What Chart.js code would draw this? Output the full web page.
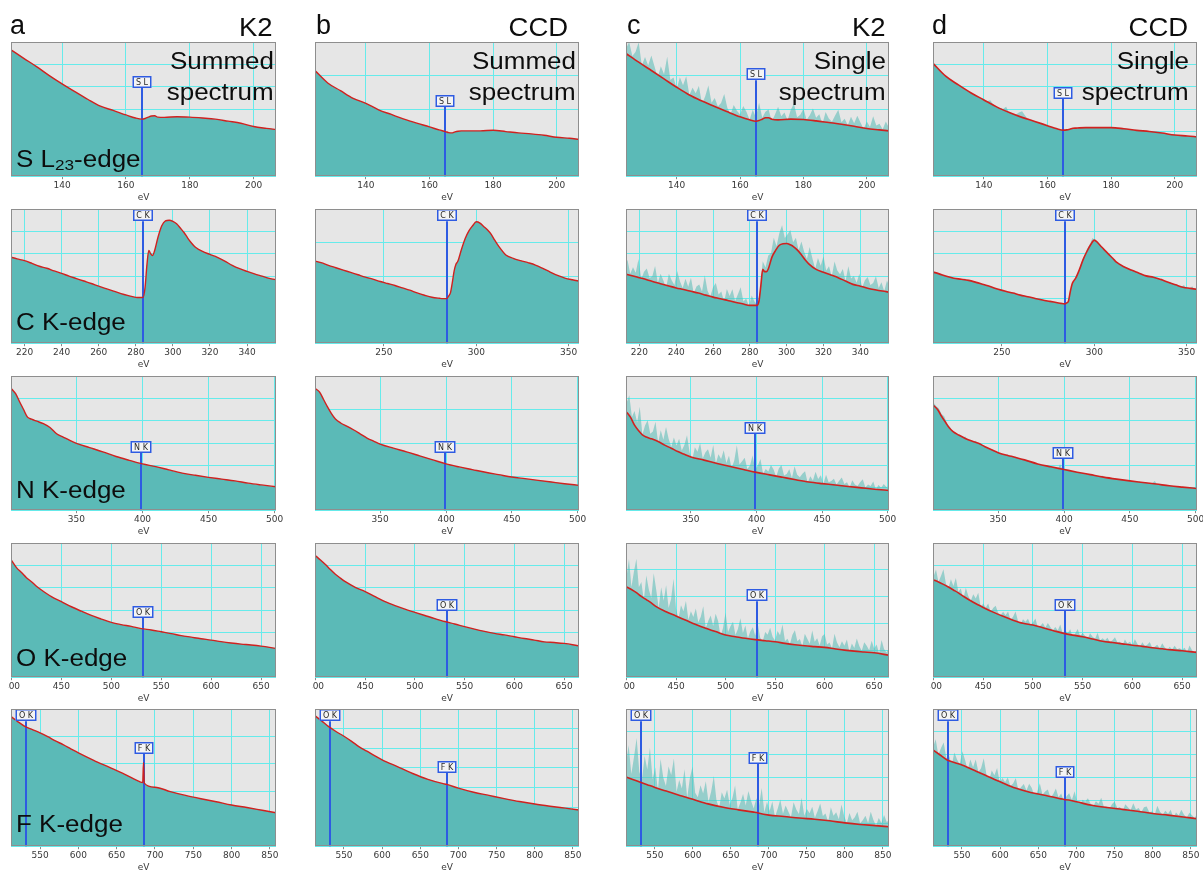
<!DOCTYPE html>
<html><head><meta charset="utf-8">
<script src="https://cdn.jsdelivr.net/npm/chart.js@4.4.1/dist/chart.umd.min.js"></script>
<style>
html,body{margin:0;padding:0;background:#fff}
body{position:relative;width:1203px;height:871px;overflow:hidden;font-family:"Liberation Sans",Arial,Helvetica,sans-serif}
.clip{position:absolute;overflow:hidden}
.clip canvas{position:absolute;left:0;top:0}
.t{position:absolute;color:#0d0d0d;white-space:nowrap;line-height:1;z-index:5}
.t .sb{position:relative;top:0.26em;font-size:0.66em}
</style></head><body>
<script>
// ---------- edges ----------
const edgeLabels = ['S L','C K','N K','O K','F K'];
const edgeEnergies = [165, 284, 399, 532, 685];

// ---------- x tick labels ----------
const ticksR1 = [140,160,180,200];
const ticksR2fine = [220,240,260,280,300,320,340];
const ticksR2coarse = [250,300,350];
const ticksR3 = [350,400,450,500];
const ticksR4 = [400,450,500,550,600,650];
const ticksR5 = [550,600,650,700,750,800,850];

// ---------- row 1 : S L23 ----------
const r1E = [124,128,132,136,140,144,148,152,156,160,163,165,166,167,168,169,170,172,176,180,184,188,192,196,200,204,207];
const r1A = [5.65,5.27,4.9,4.5,4.13,3.78,3.44,3.13,2.94,2.74,2.6,2.55,2.58,2.64,2.69,2.7,2.64,2.63,2.66,2.64,2.6,2.55,2.46,2.37,2.22,2.14,2.09];
const r1B = [3.15,2.78,2.55,2.32,2.17,1.98,1.84,1.7,1.58,1.47,1.38,1.33,1.3,1.29,1.32,1.34,1.35,1.35,1.35,1.37,1.33,1.29,1.26,1.22,1.16,1.13,1.1];
const r1C = [3.66,3.4,3.15,2.9,2.65,2.42,2.24,2.08,1.92,1.77,1.68,1.64,1.66,1.7,1.74,1.74,1.7,1.68,1.7,1.69,1.65,1.6,1.55,1.49,1.42,1.38,1.35];
const r1D = [5.05,4.47,4.08,3.72,3.41,3.1,2.85,2.63,2.45,2.26,2.12,2.06,2.07,2.1,2.14,2.15,2.16,2.17,2.17,2.17,2.12,2.05,2.0,1.93,1.84,1.8,1.76];
const r1NE = [124,125,126,127,128,129,130,131,132,133,134,135,136,137,138,139,140,141,142,143,144,145,146,147,148,149,150,151,152,153,154,155,156,157,158,159,160,161,162,163,164,165,166,167,168,169,170,171,172,173,174,175,176,177,178,179,180,181,182,183,184,185,186,187,188,189,190,191,192,193,194,195,196,197,198,199,200,201,202,203,204,205,206,207];
const r1NC = [3.8,4.0,3.58,3.7,3.99,3.3,3.55,3.3,3.6,3.27, 2.94,3.28,3.04,3.56,2.87,2.94,2.6,2.95,2.71,2.98, 2.42,2.64,2.47,2.69,2.15,2.38,2.7,2.19,2.33,2.08, 2.18,2.45,2.03,1.85,2.12,1.95,1.84,2.09,1.92,1.68, 1.98,1.75,2.19,1.74,1.92,1.99,1.63,1.83,2.07,1.79, 1.9,1.67,1.98,2.16,1.76,1.83,2.01,1.68,1.82,2.02, 1.74,1.85,1.56,1.91,1.72,1.62,1.81,1.98,1.61,1.71, 1.52,1.77,1.58,1.8,1.6,1.41,1.63,1.47,1.79,1.51, 1.56,1.4,1.63,1.44];
const r1ND = [5.0,4.85,4.7,4.5,4.4,4.35,4.2,4.15,4.0,3.95, 3.85,3.75,3.7,3.6,3.5,3.5,3.45,3.35,3.4,3.2, 3.1,3.05,3.0,3.1,2.8,2.75,2.75,2.85,2.9,2.7, 2.5,2.45,2.4,2.35,2.35,2.25,2.2,2.2,2.1,2.05, 2.0,1.95,2.0,2.05,2.15,2.1,2.05,2.1,2.2,2.1, 2.0,2.15,2.1,2.2,2.05,2.15,2.2,2.05,2.1,2.0, 2.1,2.0,1.95,2.05,1.95,2.0,1.9,1.95,1.85,1.9, 1.95,1.8,1.85,1.9,1.75,1.8,1.7,1.8,1.75,1.7, 1.75,1.65,1.75,1.7];

// ---------- row 2 : C K ----------
const r2E = [212,216,220,224,228,232,236,240,244,248,252,256,260,264,268,272,276,280,282,284,285,286,287,288,289,290,292,294,296,298,300,302,304,306,308,310,312,316,320,324,328,332,336,340,344,348,352,356];
const r2A = [3.86,3.77,3.69,3.57,3.44,3.35,3.23,3.12,3.0,2.89,2.78,2.67,2.55,2.44,2.33,2.22,2.13,2.05,2.04,2.05,2.5,3.5,4.15,4.0,3.92,4.1,4.75,5.25,5.47,5.5,5.45,5.34,5.15,4.95,4.7,4.48,4.3,4.1,3.97,3.84,3.67,3.48,3.33,3.21,3.1,3.0,2.9,2.83];
const r2B = [2.46,2.4,2.32,2.25,2.18,2.11,2.04,1.97,1.91,1.84,1.78,1.72,1.65,1.58,1.5,1.43,1.37,1.34,1.33,1.33,1.4,1.5,1.8,2.15,2.35,2.44,2.8,3.12,3.35,3.5,3.62,3.58,3.48,3.38,3.25,3.07,2.9,2.63,2.53,2.46,2.4,2.33,2.23,2.12,2.02,1.94,1.89,1.85];
const r2C = [3.1,3.02,2.93,2.84,2.74,2.65,2.56,2.47,2.4,2.32,2.24,2.15,2.06,1.99,1.91,1.83,1.76,1.69,1.69,1.69,1.9,2.6,3.3,3.2,3.2,3.32,3.85,4.15,4.38,4.45,4.46,4.4,4.3,4.15,3.95,3.73,3.55,3.3,3.17,3.05,2.93,2.78,2.63,2.55,2.46,2.39,2.33,2.28];
const r2D = [3.2,3.1,2.99,2.9,2.86,2.81,2.72,2.62,2.52,2.41,2.32,2.24,2.15,2.08,2.0,1.93,1.87,1.81,1.78,1.76,1.8,1.88,2.3,2.65,2.8,2.92,3.3,3.75,4.1,4.4,4.61,4.48,4.3,4.13,3.96,3.8,3.62,3.42,3.27,3.14,3.01,2.95,2.85,2.72,2.61,2.5,2.45,2.4];
const r2NE = [212,213.5,215,216.5,218,219.5,221,222.5,224,225.5,227,228.5,230,231.5,233,234.5,236,237.5,239,240.5,242,243.5,245,246.5,248,249.5,251,252.5,254,255.5,257,258.5,260,261.5,263,264.5,266,267.5,269,270.5,272,273.5,275,276.5,278,279.5,281,282.5,284,285.5,287,288.5,290,291.5,293,294.5,296,297.5,299,300.5,302,303.5,305,306.5,308,309.5,311,312.5,314,315.5,317,318.5,320,321.5,323,324.5,326,327.5,329,330.5,332,333.5,335,336.5,338,339.5,341,342.5,344,345.5,347,348.5,350,351.5,353,354.5,356];
const r2NC = [3.38,3.73,3.1,3.4,3.15,3.77,2.86,3.2,3.34,2.91, 2.99,3.45,2.7,3.1,2.8,2.48,3.11,2.81,2.6,3.23, 2.77,2.47,2.88,2.52,2.93,2.24,2.54,2.62,2.31,3.04, 2.35,2.09,2.5,2.69,2.18,2.31,1.84,2.42,2.11,2.41, 1.89,2.19,2.5,1.86,2.0,1.65,2.13,1.86,1.73,2.33, 3.66,3.38,3.92,4.02,4.72,4.33,4.92,5.27,4.7,4.87, 5.06,4.51,4.71,4.16,4.55,4.09,3.76,4.3,3.79,3.33, 3.81,3.46,3.89,3.25,3.44,2.98,3.65,3.25,3.08,3.32, 2.78,3.44,2.89,3.01,2.7,3.11,2.48,2.82,2.96,2.6, 2.69,2.99,2.47,2.73,2.32,2.8,2.5];
const r2ND = [3.3,3.15,3.05,3.1,2.95,2.9,3.0,2.85,2.9,2.8, 2.85,2.8,2.9,2.7,2.75,2.6,2.65,2.6,2.55,2.5, 2.55,2.45,2.5,2.35,2.4,2.3,2.35,2.25,2.3,2.2, 2.2,2.1,2.15,2.05,2.1,2.0,2.05,1.95,2.0,1.9, 1.95,1.85,1.9,1.8,1.85,1.75,1.8,1.7,1.75,1.8, 2.2,2.6,2.95,3.2,3.6,3.9,4.2,4.4,4.7,4.6, 4.55,4.3,4.2,4.0,3.95,3.7,3.7,3.5,3.45,3.4, 3.35,3.3,3.2,3.25,3.1,3.1,3.0,3.05,2.95,2.9, 2.95,2.85,2.8,2.9,2.75,2.7,2.75,2.6,2.65,2.55, 2.5,2.6,2.45,2.4,2.55,2.35,2.4];

// ---------- row 3 : N K ----------
const r3E = [301,304,307,310,313,316,320,325,330,335,340,345,350,360,370,380,390,400,410,420,430,440,450,460,470,480,490,501];
const r3A = [5.42,5.21,4.85,4.5,4.16,4.07,3.98,3.87,3.7,3.42,3.27,3.12,2.99,2.8,2.61,2.4,2.23,2.07,1.95,1.8,1.66,1.56,1.47,1.39,1.31,1.21,1.13,1.05];
const r3B = [3.62,3.52,3.3,3.08,2.88,2.72,2.6,2.5,2.39,2.27,2.15,2.06,1.97,1.85,1.74,1.62,1.5,1.38,1.29,1.21,1.13,1.06,0.99,0.94,0.89,0.84,0.79,0.74];
const r3C = [4.38,4.15,3.8,3.56,3.37,3.27,3.19,3.07,2.91,2.77,2.62,2.5,2.38,2.24,2.09,1.95,1.82,1.69,1.58,1.47,1.36,1.26,1.19,1.13,1.06,1.0,0.94,0.88];
const r3D = [4.68,4.5,4.2,3.93,3.67,3.5,3.36,3.21,3.09,2.99,2.84,2.7,2.57,2.41,2.25,2.07,1.94,1.82,1.7,1.59,1.48,1.39,1.31,1.24,1.17,1.09,1.03,0.97];
const r3NE = [301,303,305,307,309,311,313,315,317,319,321,323,325,327,329,331,333,335,337,339,341,343,345,347,349,351,353,355,357,359,361,363,365,367,369,371,373,375,377,379,381,383,385,387,389,391,393,395,397,399,401,403,405,407,409,411,413,415,417,419,421,423,425,427,429,431,433,435,437,439,441,443,445,447,449,451,453,455,457,459,461,463,465,467,469,471,473,475,477,479,481,483,485,487,489,491,493,495,497,499,501];
const r3NC = [4.8,5.14,4.17,4.43,3.92,4.62,3.37,3.79,4.02,3.42, 3.52,3.96,3.0,3.57,3.15,3.72,3.19,2.83,3.25,2.89, 3.2,2.67,2.92,3.35,2.58,2.25,2.82,2.61,3.0,2.31, 2.58,2.73,2.34,2.91,2.1,2.5,2.29,2.68,2.11,2.44, 1.88,2.21,2.9,2.04,2.19,2.35,1.84,1.99,2.45,1.82, 2.0,2.29,1.63,1.84,1.73,2.02,1.82,1.49,1.86,2.02, 1.55,1.62,1.83,1.44,1.96,1.58,1.47,1.63,1.74,1.23, 1.52,1.33,1.72,1.39,1.56,1.18,1.59,1.25,1.3,1.41, 1.15,1.32,1.46,1.17,1.25,1.02,1.34,1.15,1.08,1.25, 1.38,1.01,1.15,1.08,1.28,0.93,1.13,1.0,1.17,1.04, 1.06];
const r3ND = [4.8,4.65,4.55,4.3,4.2,3.9,3.75,3.55,3.5,3.4, 3.35,3.25,3.3,3.15,3.1,3.05,3.1,2.95,2.85,2.9, 2.8,2.75,2.7,2.65,2.6,2.55,2.5,2.45,2.5,2.4, 2.35,2.4,2.3,2.25,2.2,2.2,2.15,2.05,2.1,2.0, 2.05,1.95,2.0,1.9,1.95,1.85,1.9,1.8,2.05,1.8, 1.85,1.75,1.75,1.7,1.7,1.65,1.6,1.65,1.55,1.6, 1.55,1.5,1.5,1.45,1.55,1.4,1.45,1.4,1.35,1.4, 1.35,1.3,1.35,1.3,1.25,1.3,1.25,1.2,1.3,1.2, 1.2,1.25,1.15,1.2,1.3,1.1,1.0,1.1,1.05,1.1, 1.05,1.0,1.05,1.0,0.95,1.0,0.9,1.0,0.95,0.9, 0.95];

// ---------- row 4 : O K ----------
const r4E = [400,405,410,415,420,425,430,440,450,460,470,480,490,500,510,520,530,540,550,560,570,580,590,600,610,620,630,640,650,665];
const r4A = [5.22,4.9,4.68,4.45,4.27,4.07,3.9,3.6,3.38,3.15,2.95,2.76,2.6,2.45,2.35,2.27,2.17,2.11,2.03,1.95,1.86,1.79,1.72,1.66,1.59,1.53,1.48,1.44,1.39,1.29];
const r4B = [5.43,5.24,5.04,4.81,4.6,4.43,4.27,4.02,3.83,3.6,3.38,3.2,3.04,2.9,2.76,2.62,2.49,2.38,2.26,2.15,2.05,1.96,1.89,1.81,1.73,1.66,1.58,1.55,1.51,1.4];
const r4C = [3.36,3.27,3.15,3.01,2.89,2.77,2.63,2.44,2.28,2.12,1.96,1.82,1.7,1.57,1.51,1.45,1.4,1.36,1.32,1.26,1.21,1.17,1.14,1.11,1.06,1.01,0.97,0.94,0.91,0.82];
const r4D = [4.35,4.26,4.15,4.03,3.9,3.77,3.62,3.35,3.12,2.91,2.72,2.55,2.41,2.33,2.21,2.09,1.97,1.88,1.81,1.71,1.61,1.55,1.49,1.43,1.38,1.32,1.27,1.22,1.18,1.11];
const r4NE = [400,402.5,405,407.5,410,412.5,415,417.5,420,422.5,425,427.5,430,432.5,435,437.5,440,442.5,445,447.5,450,452.5,455,457.5,460,462.5,465,467.5,470,472.5,475,477.5,480,482.5,485,487.5,490,492.5,495,497.5,500,502.5,505,507.5,510,512.5,515,517.5,520,522.5,525,527.5,530,532.5,535,537.5,540,542.5,545,547.5,550,552.5,555,557.5,560,562.5,565,567.5,570,572.5,575,577.5,580,582.5,585,587.5,590,592.5,595,597.5,600,602.5,605,607.5,610,612.5,615,617.5,620,622.5,625,627.5,630,632.5,635,637.5,640,642.5,645,647.5,650,652.5,655,657.5,660,662.5,665];
const r4NC = [3.72,4.4,3.36,3.93,4.41,3.35,3.55,2.86,3.79,3.28, 2.95,3.87,3.26,2.58,3.35,2.85,3.43,2.58,2.9,3.67, 2.55,2.18,2.68,2.46,2.84,2.14,2.46,2.24,2.56,2.05, 2.25,2.64,1.82,2.09,2.3,1.91,2.36,2.09,1.52,1.84, 2.41,1.68,1.9,2.07,1.57,1.8,2.2,1.65,1.93,1.44, 1.7,1.86,1.54,1.98,1.47,1.33,1.68,1.58,1.84,1.51, 1.37,1.72,1.56,1.96,1.35,1.43,1.24,1.58,1.75,1.34, 1.42,1.14,1.62,1.43,1.25,1.74,1.32,1.45,1.18,1.53, 1.61,1.22,1.29,1.07,1.62,1.29,1.12,1.34,1.17,1.4, 0.95,1.26,1.09,1.44,1.16,0.99,1.3,1.17,1.0,1.36, 1.07,1.22,0.88,1.39,1.05,0.92,1.1];
const r4ND = [4.49,4.81,4.26,4.53,4.83,4.18,3.99,4.38,4.08,4.43, 3.82,3.97,3.49,4.0,3.63,3.42,3.71,3.52,3.78,3.14, 3.3,3.1,3.29,2.9,3.09,3.19,2.88,2.77,2.93,2.77, 2.94,2.56,2.7,2.94,2.51,2.36,2.59,2.48,2.61,2.35, 2.45,2.63,2.21,2.3,2.42,2.21,2.42,2.24,2.09,2.24, 2.09,2.36,1.94,2.1,1.96,2.14,1.79,1.95,2.15,1.83, 1.99,1.84,1.71,1.97,1.81,1.72,1.99,1.64,1.74,1.65, 1.76,1.55,1.65,1.79,1.55,1.59,1.42,1.68,1.51,1.58, 1.43,1.7,1.49,1.34,1.56,1.4,1.45,1.57,1.3,1.36, 1.45,1.28,1.52,1.34,1.2,1.36,1.25,1.41,1.25,1.29, 1.23,1.32,1.11,1.42,1.21,1.12,1.24];

// ---------- row 5 : F K ----------
const r5E = [512,520,530,540,550,560,570,580,590,600,620,640,660,680,684,685,686,700,720,740,760,780,800,820,840,858];
const r5A = [4.72,4.56,4.37,4.25,4.13,3.99,3.84,3.7,3.55,3.4,3.13,2.88,2.63,2.35,2.32,3.05,2.3,2.15,1.99,1.85,1.73,1.62,1.5,1.41,1.31,1.22];
const r5B = [6.65,6.42,6.1,5.84,5.61,5.35,5.07,4.85,4.62,4.41,4.06,3.71,3.41,3.19,3.16,3.15,3.14,2.96,2.75,2.59,2.43,2.28,2.15,2.04,1.94,1.85];
const r5C = [3.03,2.93,2.81,2.69,2.57,2.46,2.36,2.25,2.15,2.05,1.85,1.7,1.59,1.49,1.47,1.46,1.45,1.36,1.3,1.23,1.18,1.11,1.02,0.95,0.9,0.85];
const r5D = [4.21,4.02,3.78,3.66,3.55,3.41,3.26,3.11,2.96,2.82,2.54,2.35,2.22,2.07,2.04,2.03,2.03,1.94,1.79,1.69,1.61,1.53,1.43,1.36,1.28,1.2];
const r5NE = [512,515.5,519,522.5,526,529.5,533,536.5,540,543.5,547,550.5,554,557.5,561,564.5,568,571.5,575,578.5,582,585.5,589,592.5,596,599.5,603,606.5,610,613.5,617,620.5,624,627.5,631,634.5,638,641.5,645,648.5,652,655.5,659,662.5,666,669.5,673,676.5,680,683.5,687,690.5,694,697.5,701,704.5,708,711.5,715,718.5,722,725.5,729,732.5,736,739.5,743,746.5,750,753.5,757,760.5,764,767.5,771,774.5,778,781.5,785,788.5,792,795.5,799,802.5,806,809.5,813,816.5,820,823.5,827,830.5,834,837.5,841,844.5,848,851.5,855,858.5];
const r5NC = [3.58,4.42,3.16,3.89,4.73,3.26,2.88,3.94,3.35,4.3, 2.93,3.44,2.42,3.81,3.0,2.63,3.48,3.11,3.84,2.38, 2.89,2.52,3.37,2.12,2.97,3.48,2.34,2.14,2.67,2.31, 2.84,1.93,2.38,3.07,2.01,1.66,2.36,2.09,2.47,1.81, 2.11,2.65,1.6,1.9,2.28,1.78,2.41,1.99,1.65,2.1, 1.77,2.54,1.48,1.94,1.54,1.95,1.28,1.63,2.04,1.42, 1.78,1.52,1.27,1.92,1.6,1.41,2.12,1.33,1.63,1.44, 1.73,1.24,1.53,1.87,1.32,1.43,1.06,1.7,1.33,1.49, 1.18,1.82,1.32,1.01,1.45,1.13,1.27,1.51,1.0,1.14, 1.33,1.02,1.51,1.15,0.89,1.23,1.02,1.36,1.06,1.15];
const r5ND = [4.32,4.68,3.99,4.29,4.53,3.85,3.96,3.54,4.1,3.79, 3.58,4.15,3.77,3.34,3.79,3.45,3.79,3.24,3.41,3.85, 3.14,2.87,3.31,3.1,3.42,2.77,2.98,2.81,3.0,2.63, 2.74,2.98,2.42,2.59,2.72,2.44,2.73,2.54,2.16,2.37, 2.75,2.25,2.39,2.48,2.13,2.27,2.52,2.14,2.31,1.96, 2.18,2.32,2.02,2.4,1.93,1.81,2.03,1.94,2.1,1.86, 1.75,1.97,1.86,2.12,1.71,1.75,1.62,1.84,1.95,1.67, 1.71,1.52,1.83,1.7,1.57,1.88,1.6,1.67,1.48,1.7, 1.74,1.48,1.52,1.36,1.77,1.51,1.38,1.55,1.42,1.59, 1.24,1.47,1.34,1.59,1.37,1.24,1.46,1.35,1.22,1.47];

// ---------- axes / panel descriptions ----------
const xRanges = [[124,207],[212.7,355.6],[300.5,501],[399.5,665],[512,858]];
const xTicks = [
  [ticksR1,ticksR1,ticksR1,ticksR1],
  [ticksR2fine,ticksR2coarse,ticksR2fine,ticksR2coarse],
  [ticksR3,ticksR3,ticksR3,ticksR3],
  [ticksR4,ticksR4,ticksR4,ticksR4],
  [ticksR5,ticksR5,ticksR5,ticksR5]
];
const yDivs = [[6,4,4,6],[6,4,6,6],[6,4,6,6],[6,6,5,6],[5,7,6,6]];
const rowEdges = [[0],[1],[2],[3],[3,4]];
// label box top for each edge marker (in y-axis units), per row, per column
const boxTops = [
  [[4.48],[2.42],[3.22],[3.99]],
  [[5.99],[3.99],[5.99],[5.99]],
  [[3.09],[2.06],[3.95],[2.83]],
  [[3.18],[3.5],[3.28],[3.5]],
  [[4.99,3.81],[6.99,4.36],[5.99,4.12],[5.99,3.51]]
];
const rows = [
  {E:r1E, sum:[r1A,r1B], fit:[r1C,r1D], NE:r1NE, noisy:[r1NC,r1ND]},
  {E:r2E, sum:[r2A,r2B], fit:[r2C,r2D], NE:r2NE, noisy:[r2NC,r2ND]},
  {E:r3E, sum:[r3A,r3B], fit:[r3C,r3D], NE:r3NE, noisy:[r3NC,r3ND]},
  {E:r4E, sum:[r4A,r4B], fit:[r4C,r4D], NE:r4NE, noisy:[r4NC,r4ND]},
  {E:r5E, sum:[r5A,r5B], fit:[r5C,r5D], NE:r5NE, noisy:[r5NC,r5ND]}
];
const panelLetters = ['a','b','c','d'];
const detectors = ['K2','CCD','K2','CCD'];
const modes = [['Summed','spectrum'],['Summed','spectrum'],['Single','spectrum'],['Single','spectrum']];
const edgeTitles = ['S L<span class="sb">23</span>-edge','C K-edge','N K-edge','O K-edge','F K-edge'];

// ---------- style / layout ----------
const TEAL='#5bbab7', LIGHT='rgba(91,187,183,0.58)', BG='#e6e6e6', GRID='#66ebeb', RED='#d0211f', BLUE='#2e5be2', FRAME='#8e8e8e';
const COLS=[[11,265],[315,264],[626,263],[933,264]];
const ROWS=[[42,134],[209,134],[376,134],[543,134],[709,137]];
const PADL=20,PADR=20,PADT=4,CLIPL=3,CLIPT=4,BOXH=12;
const TICKFONT={family:'"DejaVu Sans", Verdana, sans-serif', size:9, lineHeight:1.1};

function pts(E,V){return E.map((e,i)=>({x:e,y:V[i]}));}

function panelPlugin(marks){
  return {
    id:'panelDeco',
    beforeDraw(c){const a=c.chartArea,ctx=c.ctx;ctx.save();ctx.fillStyle=BG;ctx.fillRect(a.left,a.top,a.right-a.left,a.bottom-a.top);ctx.restore();},
    beforeDatasetDraw(c,args){
      if(args.index!==0) return;
      const a=c.chartArea,ctx=c.ctx,x=c.scales.x,y=c.scales.y;
      ctx.save();ctx.strokeStyle=BLUE;ctx.lineWidth=2;
      for(const m of marks){
        const px=Math.round(x.getPixelForValue(m.e));
        const t=y.getPixelForValue(m.at)+BOXH;
        ctx.beginPath();ctx.moveTo(px,t);ctx.lineTo(px,a.bottom);ctx.stroke();
      }
      ctx.restore();
    },
    afterDatasetsDraw(c){
      const ctx=c.ctx,x=c.scales.x,y=c.scales.y;
      ctx.save();ctx.font='8px "DejaVu Sans", sans-serif';ctx.textAlign='center';ctx.textBaseline='middle';
      for(const m of marks){
        const px=Math.round(x.getPixelForValue(m.e));
        const t=Math.round(y.getPixelForValue(m.at));
        const w=Math.max(18,Math.round(ctx.measureText(m.label).width)+7);
        ctx.fillStyle='#f4f4f4';ctx.fillRect(px-w/2,t,w,BOXH);
        ctx.strokeStyle=BLUE;ctx.lineWidth=1.5;ctx.strokeRect(px-w/2+0.75,t+0.75,w-1.5,BOXH-1.5);
        ctx.fillStyle='#2a2a2a';ctx.fillText(m.label,px,t+BOXH/2+0.5);
      }
      ctx.restore();
    },
    afterDraw(c){const a=c.chartArea,ctx=c.ctx;ctx.save();ctx.strokeStyle=FRAME;ctx.lineWidth=1;ctx.strokeRect(Math.round(a.left)+0.5,Math.round(a.top)+0.5,Math.round(a.right-a.left)-1,Math.round(a.bottom-a.top)-1);ctx.restore();}
  };
}

function cfgFor(ri,ci){
  const row=rows[ri];
  const ds=[];
  if(ci<2){
    ds.push({data:pts(row.E,row.sum[ci]),borderColor:RED,borderWidth:1.4,backgroundColor:TEAL,fill:'origin',cubicInterpolationMode:'monotone'});
  }else{
    ds.push({data:pts(row.E,row.fit[ci-2]),borderColor:RED,borderWidth:1.6,backgroundColor:TEAL,fill:'origin',cubicInterpolationMode:'monotone'});
    ds.push({data:pts(row.NE,row.noisy[ci-2]),borderColor:'rgba(0,0,0,0)',borderWidth:0,backgroundColor:LIGHT,fill:'origin'});
  }
  const marks=rowEdges[ri].map((k,j)=>({e:edgeEnergies[k],label:edgeLabels[k],at:boxTops[ri][ci][j]}));
  const tickVals=xTicks[ri][ci];
  return {
    type:'line',
    data:{datasets:ds},
    options:{
      responsive:false,maintainAspectRatio:false,animation:false,devicePixelRatio:1,
      layout:{padding:{left:PADL,right:PADR,top:PADT,bottom:0}},
      elements:{point:{radius:0},line:{tension:0}},
      plugins:{legend:{display:false},tooltip:{enabled:false},title:{display:false}},
      events:[],
      scales:{
        x:{type:'linear',min:xRanges[ri][0],max:xRanges[ri][1],
           afterBuildTicks:(axis)=>{axis.ticks=tickVals.map(v=>({value:v}));},
           ticks:{autoSkip:false,maxRotation:0,minRotation:0,font:TICKFONT,color:'#383838',padding:2},
           grid:{color:GRID,lineWidth:1,drawTicks:true,tickLength:3,tickColor:'#8a8a8a'},
           border:{display:false},
           title:{display:true,text:'eV',font:TICKFONT,color:'#383838',padding:0}},
        y:{type:'linear',min:0,max:yDivs[ri][ci],
           ticks:{display:false,stepSize:1},
           grid:{color:GRID,lineWidth:1,drawTicks:false},
           border:{display:false}}
      }
    },
    plugins:[panelPlugin(marks)]
  };
}

function buildPanel(ri,ci){
  const [px,pw]=COLS[ci],[py,ph]=ROWS[ri];
  const wrap=document.createElement('div');wrap.className='clip';
  wrap.style.left=(px-CLIPL)+'px';wrap.style.top=(py-CLIPT)+'px';
  wrap.style.width=(pw+CLIPL+16)+'px';wrap.style.height=(ph+CLIPT+27)+'px';
  document.body.appendChild(wrap);
  let W=pw+PADL+PADR,H=ph+PADT+25,cv,ch;
  for(let pass=0;pass<4;pass++){
    cv=document.createElement('canvas');cv.width=W;cv.height=H;cv.style.width=W+'px';cv.style.height=H+'px';
    wrap.appendChild(cv);
    ch=new Chart(cv,cfgFor(ri,ci));
    const a=ch.chartArea;
    const dw=Math.round(pw-(a.right-a.left)),dh=Math.round(ph-(a.bottom-a.top));
    if(dw===0&&dh===0) break;
    ch.destroy();cv.remove();W+=dw;H+=dh;
  }
  const a=ch.chartArea;
  cv.style.left=(CLIPL-a.left)+'px';cv.style.top=(CLIPT-a.top)+'px';
}

for(let r=0;r<5;r++) for(let c=0;c<4;c++) buildPanel(r,c);

// ---------- text ----------
function addText(html,x,base,size,align,sx){
  const d=document.createElement('div');d.className='t';d.innerHTML=html;
  d.style.fontSize=size+'px';d.style.top=(base-0.8465*size)+'px';
  if(align==='right'){d.style.right=(1203-x)+'px';d.style.transformOrigin='right center';}
  else{d.style.left=x+'px';d.style.transformOrigin='left center';}
  d.style.transform='scaleX('+sx+')';
  document.body.appendChild(d);
}
const letterX=[10,316,627,932], detX=[273,568,886,1188], modeX=[274,576,886,1189];
for(let c=0;c<4;c++){
  addText(panelLetters[c],letterX[c],35,27,'left',1);
  addText(detectors[c],detX[c],36,25,'right',1.1);
  addText(modes[c][0],modeX[c],69,23,'right',1.13);
  addText(modes[c][1],modeX[c],100,23,'right',1.13);
}
const edgeBase=[167,330,498,666,832];
for(let r=0;r<5;r++) addText(edgeTitles[r],16,edgeBase[r],23,'left',1.13);
</script>
</body></html>
